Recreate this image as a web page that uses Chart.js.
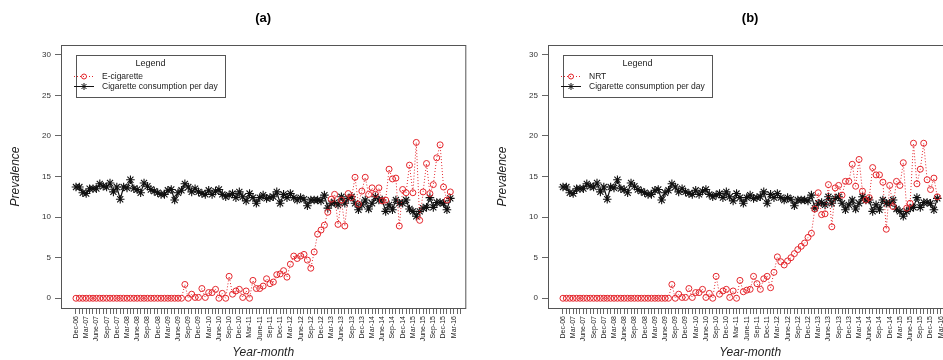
<!DOCTYPE html>
<html>
<head>
<meta charset="utf-8">
<script src="https://cdn.jsdelivr.net/npm/chart.js@4.4.0/dist/chart.umd.min.js"></script>
<style>
  html, body { margin: 0; padding: 0; background: #fff; width: 943px; height: 360px; overflow: hidden; }
  .panel { position: absolute; top: 0; width: 471px; height: 360px; }
  #panel-a { left: 0; }
  #panel-b { left: 487px; }
</style>
</head>
<body>
<div class="panel" id="panel-a"><canvas id="chart-a" width="471" height="360"></canvas></div>
<div class="panel" id="panel-b"><canvas id="chart-b" width="471" height="360"></canvas></div>
<script>
// quarterly tick labels, one every 3 months from Dec-06
const tickLabels = [
  'Dec-06', 'Mar-07', 'June-07', 'Sep-07', 'Dec-07', 'Mar-08', 'June-08', 'Sep-08',
  'Dec-08', 'Mar-09', 'June-09', 'Sep-09', 'Dec-09', 'Mar-10', 'June-10', 'Sep-10',
  'Dec-10', 'Mar-11', 'June-11', 'Sep-11', 'Dec-11', 'Mar-12', 'June-12', 'Sep-12',
  'Dec-12', 'Mar-13', 'June-13', 'Sep-13', 'Dec-13', 'Mar-14', 'June-14', 'Sep-14',
  'Dec-14', 'Mar-15', 'June-15', 'Sep-15', 'Dec-15', 'Mar-16'
];
const yTicks = [0, 5, 10, 15, 20, 25, 30];

// monthly values, Dec-06 onwards
const cigarettes = [
  13.7, 13.7, 13.0, 12.9, 13.5, 13.5, 13.5, 14.1, 13.8, 13.7,
  14.2, 13.1, 13.7, 12.2, 13.7, 13.6, 14.6, 13.5, 13.4, 13.0,
  14.2, 13.8, 13.4, 13.2, 13.0, 12.8, 12.8, 13.3, 13.4, 12.1,
  13.0, 13.3, 14.1, 13.7, 13.1, 13.5, 13.1, 12.9, 12.8, 13.3,
  12.8, 13.2, 13.4, 12.8, 12.5, 12.7, 12.9, 12.4, 13.1, 12.5,
  12.0, 12.9, 12.4, 11.7, 12.4, 12.7, 12.3, 12.4, 12.5, 13.1,
  11.7, 12.8, 12.4, 12.9, 12.4, 12.1, 12.4, 12.2, 11.4, 12.1,
  12.1, 12.1, 12.0, 12.7, 11.1, 11.7, 11.8, 11.5, 12.5, 11.7,
  12.3, 12.5, 11.7, 10.9, 11.5, 12.1, 11.0, 11.7, 12.5, 12.1,
  12.1, 10.7, 11.5, 10.9, 12.1, 11.7, 11.7, 12.1, 11.0, 10.7,
  10.1, 10.7, 11.1, 11.2, 12.4, 11.2, 11.8, 11.8, 11.7, 10.9, 12.3
];
const ecigarette = [
  0, 0, 0, 0, 0, 0, 0, 0, 0, 0,
  0, 0, 0, 0, 0, 0, 0, 0, 0, 0,
  0, 0, 0, 0, 0, 0, 0, 0, 0, 0,
  0, 0, 1.7, 0, 0.5, 0.1, 0.1, 1.2, 0.1, 0.7,
  0.7, 1.1, 0, 0.6, 0, 2.7, 0.5, 0.9, 1.1, 0.1,
  0.9, 0, 2.2, 1.2, 1.2, 1.5, 2.4, 1.8, 2.0, 2.9,
  3.0, 3.4, 2.6, 4.2, 5.2, 4.9, 5.2, 5.4, 4.7, 3.7,
  5.7, 7.9, 8.4, 9.0, 10.6, 12.2, 12.8, 9.1, 12.1, 8.9,
  12.9, 12.4, 14.9, 11.6, 13.2, 14.9, 12.8, 13.6, 12.8, 13.6,
  12.0, 12.1, 15.9, 14.7, 14.8, 8.9, 13.4, 13.0, 16.4, 13.0,
  19.2, 9.6, 13.1, 16.6, 12.9, 14.0, 17.3, 18.9, 13.7, 12.1, 13.1
];
const nrt = [
  0, 0, 0, 0, 0, 0, 0, 0, 0, 0,
  0, 0, 0, 0, 0, 0, 0, 0, 0, 0,
  0, 0, 0, 0, 0, 0, 0, 0, 0, 0,
  0, 0, 1.7, 0, 0.5, 0.1, 0.1, 1.2, 0.1, 0.7,
  0.7, 1.1, 0.1, 0.6, 0, 2.7, 0.5, 0.9, 1.1, 0.1,
  0.9, 0, 2.2, 0.8, 1.0, 1.1, 2.7, 1.8, 1.1, 2.4,
  2.7, 1.3, 3.2, 5.1, 4.5, 4.1, 4.6, 5.0, 5.5, 6.0,
  6.4, 6.8, 7.5, 8.0, 11.0, 13.0, 10.3, 10.4, 14.0, 8.8,
  13.6, 13.9, 12.7, 14.4, 14.4, 16.5, 13.8, 17.1, 13.2, 12.1,
  12.4, 16.1, 15.2, 15.2, 14.3, 8.5, 13.9, 11.3, 14.4, 13.9,
  16.7, 11.1, 11.7, 19.1, 14.1, 15.9, 19.1, 14.6, 13.4, 14.8, 12.5
];

const RED = '#e4262c';
const INK = '#111';
const FRAME = '#555';
Chart.defaults.font.family = '"Liberation Sans", Arial, sans-serif';

function toPoints(values) {
  return values.map((v, i) => ({ x: i, y: v }));
}

function drawStar(ctx, x, y, r) {
  ctx.beginPath();
  for (let k = 0; k < 4; k++) {
    const a = k * Math.PI / 4;
    ctx.moveTo(x - r * Math.cos(a), y - r * Math.sin(a));
    ctx.lineTo(x + r * Math.cos(a), y + r * Math.sin(a));
  }
  ctx.stroke();
}

// frame, panel title and the boxed legend (drawn in plot coords like R's legend())
const framePlugin = {
  id: 'frame',
  afterDraw(chart, args, opts) {
    const { ctx, chartArea: a } = chart;
    ctx.save();
    ctx.strokeStyle = FRAME;
    ctx.lineWidth = 1;
    ctx.strokeRect(a.left + 0.5, a.top + 0.5, a.right - a.left, a.bottom - a.top);

    ctx.fillStyle = '#000';
    ctx.font = 'bold 13px "Liberation Sans", Arial, sans-serif';
    ctx.textAlign = 'center';
    ctx.textBaseline = 'middle';
    ctx.fillText(opts.title, (a.left + a.right) / 2, 18);

    const lx = 76, ly = 55, lw = 149, lh = 42;
    ctx.fillStyle = '#fff';
    ctx.fillRect(lx, ly, lw, lh);
    ctx.strokeStyle = FRAME;
    ctx.strokeRect(lx + 0.5, ly + 0.5, lw, lh);
    ctx.fillStyle = '#222';
    ctx.font = '9px "Liberation Sans", Arial, sans-serif';
    ctx.fillText('Legend', lx + lw / 2, ly + 9);
    ctx.textAlign = 'left';
    ctx.font = '8.5px "Liberation Sans", Arial, sans-serif';

    // first entry: dotted red with open circle
    ctx.strokeStyle = RED;
    ctx.setLineDash([1, 2]);
    ctx.beginPath(); ctx.moveTo(lx - 2, ly + 21.5); ctx.lineTo(lx + 18, ly + 21.5); ctx.stroke();
    ctx.setLineDash([]);
    ctx.beginPath(); ctx.arc(lx + 8, ly + 21.5, 2.5, 0, Math.PI * 2); ctx.stroke();
    ctx.fillText(opts.series, lx + 26, ly + 21.5);

    // second entry: solid black with asterisk
    ctx.strokeStyle = INK;
    ctx.beginPath(); ctx.moveTo(lx - 2, ly + 31.5); ctx.lineTo(lx + 18, ly + 31.5); ctx.stroke();
    drawStar(ctx, lx + 8, ly + 31.5, 3.5);
    ctx.fillText('Cigarette consumption per day', lx + 26, ly + 31.5);
    ctx.restore();
  }
};

function makeChart(id, title, name, values) {
  const ctx = document.getElementById(id).getContext('2d');
  return new Chart(ctx, {
    type: 'line',
    data: {
      datasets: [{
        label: 'Cigarette consumption per day',
        data: toPoints(cigarettes),
        borderColor: INK,
        borderWidth: 1.2,
        pointStyle: 'star',
        pointRadius: 4.3,
        pointBorderColor: INK,
        pointBorderWidth: 1.1,
        tension: 0,
        order: 1
      }, {
        label: name,
        data: toPoints(values),
        borderColor: RED,
        borderWidth: 1,
        borderDash: [1, 2],
        pointStyle: 'circle',
        pointRadius: 3,
        pointBorderColor: RED,
        pointBorderWidth: 1,
        pointBackgroundColor: 'rgba(0,0,0,0)',
        tension: 0,
        order: 0
      }]
    },
    options: {
      responsive: false,
      animation: false,
      events: [],
      layout: { padding: { top: 45, right: 5, left: 0, bottom: 0 } },
      plugins: {
        legend: { display: false },
        tooltip: { enabled: false },
        frame: { title: title, series: name }
      },
      scales: {
        x: {
          type: 'linear',
          min: -4.4,
          max: 114.4,
          afterBuildTicks: (axis) => {
            axis.ticks = [];
            for (let i = 0; i < tickLabels.length * 3; i++) axis.ticks.push({ value: i });
          },
          afterFit: (s) => { s.height = 52; },
          ticks: {
            autoSkip: false,
            minRotation: 90,
            maxRotation: 90,
            padding: 2,
            color: '#222',
            font: { size: 7 },
            callback: (v) => (v % 3 === 0 ? tickLabels[v / 3] : '')
          },
          grid: { drawOnChartArea: false, tickLength: 6, color: '#666' },
          border: { display: false },
          title: {
            display: true,
            text: 'Year-month',
            color: '#222',
            font: { size: 12, style: 'italic' },
            padding: { top: 0, bottom: 0 }
          }
        },
        y: {
          min: -1.2,
          max: 31.2,
          afterBuildTicks: (axis) => { axis.ticks = yTicks.map(v => ({ value: v })); },
          afterFit: (s) => { s.width = 61; },
          ticks: { color: '#333', font: { size: 8 }, padding: 4 },
          grid: { drawOnChartArea: false, tickLength: 6, color: '#666' },
          border: { display: false },
          title: {
            display: true,
            text: 'Prevalence',
            color: '#222',
            font: { size: 12, style: 'italic' },
            padding: { top: 8, bottom: 0 }
          }
        }
      }
    },
    plugins: [framePlugin]
  });
}

makeChart('chart-a', '(a)', 'E-cigarette', ecigarette);
makeChart('chart-b', '(b)', 'NRT', nrt);
</script>
</body>
</html>
